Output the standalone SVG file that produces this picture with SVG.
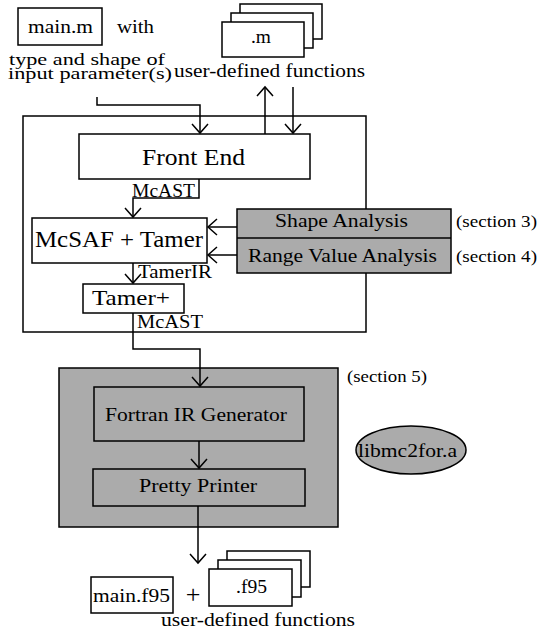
<svg xmlns="http://www.w3.org/2000/svg" width="538" height="631" viewBox="0 0 538 631">
<defs>
<style>
.box{fill:#fff;stroke:#000;stroke-width:1.5;}
.gbox{fill:#ababab;stroke:#000;stroke-width:1.5;}
.ln{fill:none;stroke:#000;stroke-width:1.5;}
.c{text-anchor:middle;}
</style>
<marker id="ah" markerUnits="userSpaceOnUse" viewBox="-12 -10 14 20" markerWidth="14" markerHeight="20" refX="0" refY="0" orient="auto">
<path d="M-9,-8 L0,0 L-9,8" fill="none" stroke="#000" stroke-width="1.5"/>
</marker>
</defs>
<rect width="538" height="631" fill="#fff"/>
<g font-family="Liberation Serif, Times New Roman, DejaVu Serif, serif" fill="#000">

<g id="mainm">
<rect class="box" x="18" y="8" width="84" height="37"/>
<text x="28" y="33" font-size="18" textLength="65" lengthAdjust="spacingAndGlyphs">main.m</text>
</g>
<text x="117" y="33" font-size="18" textLength="37" lengthAdjust="spacingAndGlyphs">with</text>
<text x="9" y="65" font-size="17" textLength="156" lengthAdjust="spacingAndGlyphs">type and shape of</text>
<text x="8" y="79" font-size="17" textLength="164" lengthAdjust="spacingAndGlyphs">input parameter(s)</text>

<g id="mfiles">
<rect class="box" x="240" y="4" width="82" height="35"/>
<rect class="box" x="231" y="13" width="82" height="35"/>
<rect class="box" x="222" y="22" width="82" height="35"/>
<text x="251" y="43" font-size="18" textLength="20" lengthAdjust="spacingAndGlyphs">.m</text>
<text x="174" y="77" font-size="19" textLength="191" lengthAdjust="spacingAndGlyphs">user-defined functions</text>
</g>

<g id="outer">
<rect x="23" y="116" width="343" height="216" fill="none" stroke="#000" stroke-width="1.5"/>
</g>

<g id="frontend">
<rect class="box" x="79" y="134" width="231" height="45"/>
<text x="142" y="165" font-size="23" textLength="103" lengthAdjust="spacingAndGlyphs">Front End</text>
</g>

<g id="mcsaf">
<rect class="box" x="32" y="218" width="175" height="45"/>
<text x="35" y="247" font-size="23" textLength="168" lengthAdjust="spacingAndGlyphs">McSAF + Tamer</text>
</g>

<g id="tamerplus">
<rect class="box" x="83" y="284" width="101" height="29"/>
<text x="92" y="305" font-size="22" textLength="78" lengthAdjust="spacingAndGlyphs">Tamer+</text>
</g>

<g id="analyses">
<rect class="gbox" x="237" y="209" width="214" height="64"/>
<line class="ln" x1="237" y1="238" x2="451" y2="238"/>
<text x="275" y="227" font-size="18" textLength="133" lengthAdjust="spacingAndGlyphs">Shape Analysis</text>
<text x="248" y="262" font-size="18" textLength="189" lengthAdjust="spacingAndGlyphs">Range Value Analysis</text>
</g>
<text x="456" y="227" font-size="16" textLength="81" lengthAdjust="spacingAndGlyphs">(section 3)</text>
<text x="456" y="262" font-size="16" textLength="81" lengthAdjust="spacingAndGlyphs">(section 4)</text>

<g id="backend">
<rect class="gbox" x="59" y="368" width="279" height="159"/>
<text x="347" y="382" font-size="16" textLength="80" lengthAdjust="spacingAndGlyphs">(section 5)</text>
</g>
<g id="fortranir">
<rect class="gbox" x="94" y="387" width="210" height="54"/>
<text x="105" y="421" font-size="19" textLength="182" lengthAdjust="spacingAndGlyphs">Fortran IR Generator</text>
</g>
<g id="pretty">
<rect class="gbox" x="93" y="469" width="212" height="37"/>
<text x="139" y="492" font-size="19" textLength="118" lengthAdjust="spacingAndGlyphs">Pretty Printer</text>
</g>

<g id="lib">
<ellipse cx="411" cy="450" rx="55" ry="24" fill="#ababab" stroke="#000" stroke-width="1.5"/>
<text x="358" y="457" font-size="18" textLength="99" lengthAdjust="spacingAndGlyphs">libmc2for.a</text>
</g>

<g id="mainf95">
<rect class="box" x="91" y="577" width="82" height="36"/>
<text x="93" y="602" font-size="18" textLength="77" lengthAdjust="spacingAndGlyphs">main.f95</text>
</g>
<text class="c" x="193" y="603" font-size="26">+</text>

<g id="f95files">
<rect class="box" x="227" y="551" width="83" height="36"/>
<rect class="box" x="218" y="560" width="83" height="37"/>
<rect class="box" x="209" y="569" width="83" height="37"/>
<text x="236" y="593" font-size="18" textLength="31" lengthAdjust="spacingAndGlyphs">.f95</text>
<text x="161" y="626" font-size="18" textLength="194" lengthAdjust="spacingAndGlyphs">user-defined functions</text>
</g>

<g id="connectors">
<path class="ln" d="M97,97 V105 H200 V133" marker-end="url(#ah)"/>
<path class="ln" d="M265,134 V87" marker-end="url(#ah)"/>
<path class="ln" d="M293,87 V133" marker-end="url(#ah)"/>
<path class="ln" d="M199,179 V198 H133 V217" marker-end="url(#ah)"/>
<path class="ln" d="M237,227 H208" marker-end="url(#ah)"/>
<path class="ln" d="M237,255 H208" marker-end="url(#ah)"/>
<path class="ln" d="M133,263 V283" marker-end="url(#ah)"/>
<path class="ln" d="M133,313 V349 H200 V386" marker-end="url(#ah)"/>
<path class="ln" d="M199,441 V468" marker-end="url(#ah)"/>
<path class="ln" d="M198,506 V563" marker-end="url(#ah)"/>
</g>
<text x="132" y="197" font-size="18" textLength="63" lengthAdjust="spacingAndGlyphs">McAST</text>
<text x="138" y="278" font-size="18" textLength="74" lengthAdjust="spacingAndGlyphs">TamerIR</text>
<text x="137" y="328" font-size="18" textLength="66" lengthAdjust="spacingAndGlyphs">McAST</text>
</g>
</svg>
